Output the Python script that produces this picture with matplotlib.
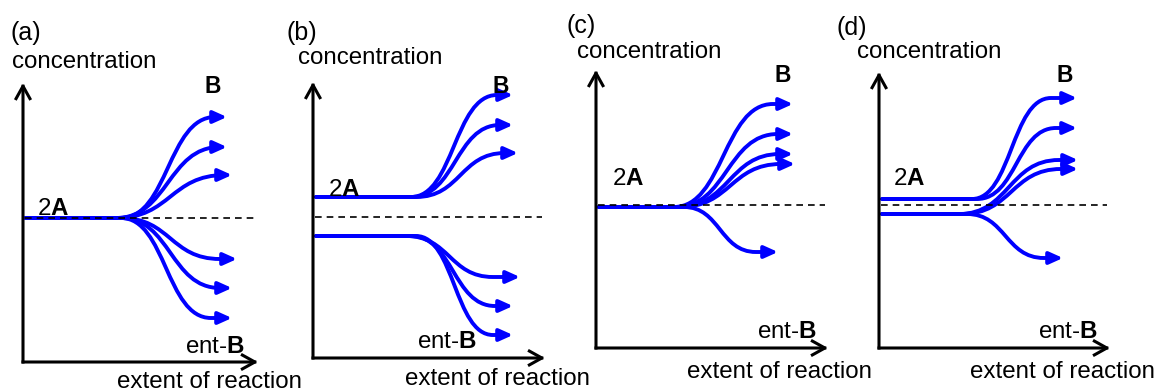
import matplotlib
matplotlib.use("Agg")
import matplotlib.pyplot as plt
from matplotlib.path import Path
from matplotlib.patches import FancyArrowPatch

plt.rcParams['font.family'] = ['Liberation Sans', 'DejaVu Sans']
plt.rcParams['mathtext.fontset'] = 'custom'
plt.rcParams['mathtext.rm'] = 'Liberation Sans'
plt.rcParams['mathtext.bf'] = 'Liberation Sans:bold'

BLUE = '#0000ff'
FS = 17.4

# schematic values, one set per panel
# concentration = height above the x axis, extent = distance from the y axis
panel_labels = ['(a)', '(b)', '(c)', '(d)']
racemic = [144, 141, 143, 143]          # dashed reference level

a_start = [144, 144, 144, 144, 144, 144]
a_end = [245, 215, 187, 103, 74, 44]
a_bend0 = [98, 93, 93, 98, 98, 98]
a_bend1 = [192, 197, 202, 197, 197, 188]
a_tip = [204, 204, 209, 214, 209, 209]

b_start = [161, 161, 161, 122, 122, 122]
b_end = [263, 233, 205, 81, 52, 23]
b_bend0 = [98, 98, 103, 93, 98, 103]
b_bend1 = [184, 187, 192, 180, 182, 180]
b_tip = [200, 200, 205, 207, 200, 200]

c_start = [141, 141, 141, 141, 141]
c_end = [244, 214, 194, 184, 96]
c_bend0 = [78, 80, 82, 84, 88]
c_bend1 = [177, 182, 184, 185, 160]
c_tip = [197, 197, 197, 199, 182]

d_start = [149, 149, 134, 134, 134]
d_end = [250, 220, 188, 179, 90]
d_bend0 = [93, 98, 80, 83, 88]
d_bend1 = [172, 177, 180, 182, 165]
d_tip = [198, 198, 199, 199, 184]

curves = [
    (a_start, a_end, a_bend0, a_bend1, a_tip),
    (b_start, b_end, b_bend0, b_bend1, b_tip),
    (c_start, c_end, c_bend0, c_bend1, c_tip),
    (d_start, d_end, d_bend0, d_bend1, d_tip),
]

# layout (pixels of the picture)
origins = [(23, 362), (313, 358), (596, 348), (879, 348)]
yaxis_len = [279, 276, 278, 276]
xaxis_len = [235, 232, 232, 231]
label_pos = [(11, 40), (287, 40), (566, 33), (837, 35)]
conc_pos = [(12, 68), (298, 64), (577, 58), (857, 58)]
b_pos = [(205, 93), (492, 93), (775, 82), (1057, 82)]
twoa_pos = [(37, 215), (328, 196), (612, 185), (893, 185)]
entb_pos = [(185, 353), (417, 348), (757, 338), (1038, 338)]
ext_pos = [(117, 388), (405, 385), (687, 378), (970, 378)]

fig = plt.figure(figsize=(11.59, 3.91), dpi=100)
ax = fig.add_axes([0, 0, 1, 1])
ax.set_xlim(0, 1159)
ax.set_ylim(391, 0)
ax.axis('off')

for i in range(4):
    ox, oy = origins[i]

    # axes with open arrow heads
    for end in [(ox, oy - yaxis_len[i]), (ox + xaxis_len[i], oy)]:
        ax.add_patch(FancyArrowPatch((ox, oy), end, arrowstyle='->,head_length=0.45,head_width=0.25',
                                     mutation_scale=20, lw=2.2, color='black',
                                     shrinkA=0, shrinkB=0, capstyle='projecting', zorder=3))

    # dashed racemic level
    ax.plot([ox + 2, ox + xaxis_len[i] - 3], [oy - racemic[i]] * 2, color='black',
            lw=1.2, dashes=(4, 3), zorder=4)

    # concentration curves
    start, end, bend0, bend1, tip = curves[i]
    for h0, h1, x0, x1, xt in zip(start, end, bend0, bend1, tip):
        k = 0.5 * (x1 - x0)
        verts = [(ox + 3, oy - h0), (ox + x0, oy - h0),
                 (ox + x0 + k, oy - h0), (ox + x1 - k, oy - h1), (ox + x1, oy - h1),
                 (ox + xt, oy - h1)]
        codes = [Path.MOVETO, Path.LINETO, Path.CURVE4, Path.CURVE4, Path.CURVE4, Path.LINETO]
        ax.add_patch(FancyArrowPatch(path=Path(verts, codes),
                                     arrowstyle='-|>,head_length=0.4,head_width=0.18',
                                     mutation_scale=20, lw=2.8, color=BLUE, zorder=2))

    # texts
    ax.text(*label_pos[i], panel_labels[i], fontsize=FS + 0.6, va='baseline')
    ax.text(*conc_pos[i], 'concentration', fontsize=FS, va='baseline')
    ax.text(*b_pos[i], 'B', fontsize=FS - 1, fontweight='bold', va='baseline')
    ax.text(*twoa_pos[i], r'2$\mathbf{A}$', fontsize=FS, va='baseline')
    ax.text(*entb_pos[i], r'ent-$\mathbf{B}$', fontsize=FS, va='baseline')
    ax.text(*ext_pos[i], 'extent of reaction', fontsize=FS, va='baseline')

fig.savefig('out.png', dpi=100)
